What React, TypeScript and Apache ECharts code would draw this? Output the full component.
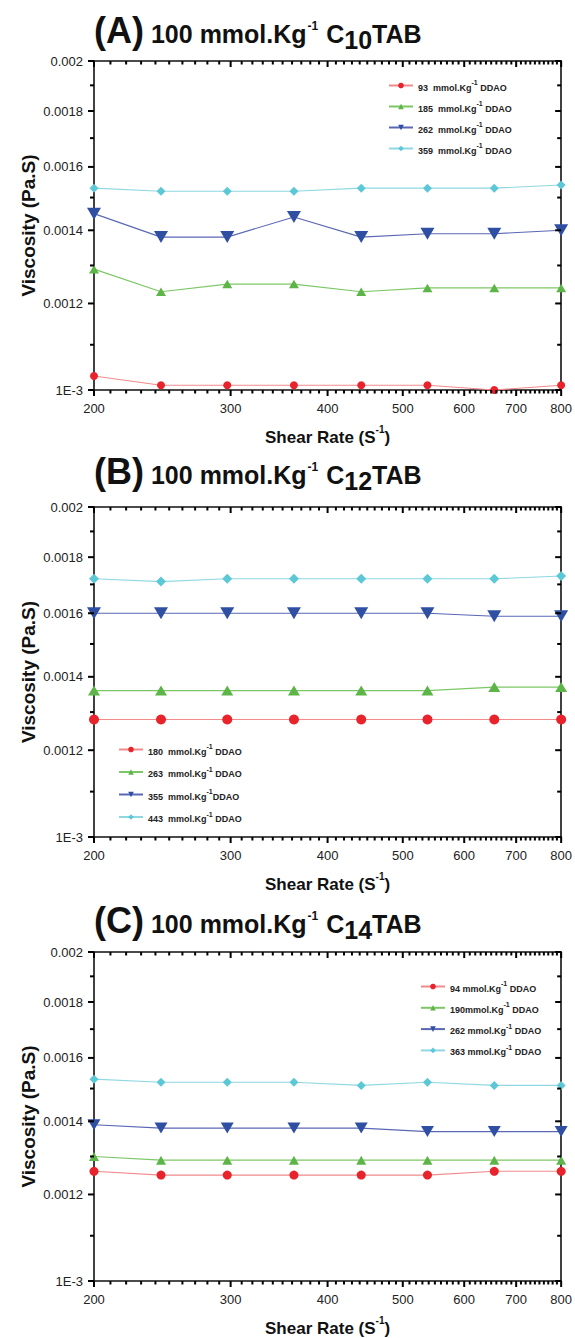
import React, { useEffect, useRef } from "react";
import * as echarts from "echarts";

// ---------- data ----------
const shearRates = [200, 244, 297, 362, 442, 538, 656, 800];

const panelLetters = ["(A)", "(B)", "(C)"];
const surfactantChain = ["10", "12", "14"];

const namesA = ["93  mmol.Kg-1 DDAO", "185  mmol.Kg-1 DDAO", "262  mmol.Kg-1 DDAO", "359  mmol.Kg-1 DDAO"];
const a93 = [0.00103, 0.00101, 0.00101, 0.00101, 0.00101, 0.00101, 0.001, 0.00101];
const a185 = [0.00129, 0.00123, 0.00125, 0.00125, 0.00123, 0.00124, 0.00124, 0.00124];
const a262 = [0.00145, 0.00138, 0.00138, 0.00144, 0.00138, 0.00139, 0.00139, 0.0014];
const a359 = [0.00153, 0.00152, 0.00152, 0.00152, 0.00153, 0.00153, 0.00153, 0.00154];

const namesB = ["180  mmol.Kg-1 DDAO", "263  mmol.Kg-1 DDAO", "355  mmol.Kg-1DDAO", "443  mmol.Kg-1 DDAO"];
const b180 = [0.00128, 0.00128, 0.00128, 0.00128, 0.00128, 0.00128, 0.00128, 0.00128];
const b263 = [0.00136, 0.00136, 0.00136, 0.00136, 0.00136, 0.00136, 0.00137, 0.00137];
const b355 = [0.0016, 0.0016, 0.0016, 0.0016, 0.0016, 0.0016, 0.00159, 0.00159];
const b443 = [0.00172, 0.00171, 0.00172, 0.00172, 0.00172, 0.00172, 0.00172, 0.00173];

const namesC = ["94 mmol.Kg-1 DDAO", "190mmol.Kg-1 DDAO", "262 mmol.Kg-1 DDAO", "363 mmol.Kg-1 DDAO"];
const c94 = [0.00126, 0.00125, 0.00125, 0.00125, 0.00125, 0.00125, 0.00126, 0.00126];
const c190 = [0.0013, 0.00129, 0.00129, 0.00129, 0.00129, 0.00129, 0.00129, 0.00129];
const c262 = [0.00139, 0.00138, 0.00138, 0.00138, 0.00138, 0.00137, 0.00137, 0.00137];
const c363 = [0.00153, 0.00152, 0.00152, 0.00152, 0.00151, 0.00152, 0.00151, 0.00151];

const xMajorTicks = [200, 300, 400, 500, 600, 700, 800];
const xTickLabels = ["200", "300", "400", "500", "600", "700", "800"];
const yMajorTicks = [0.001, 0.0012, 0.0014, 0.0016, 0.0018, 0.002];
const yTickLabels = ["1E-3", "0.0012", "0.0014", "0.0016", "0.0018", "0.002"];
const yMinorTicks = [0.0011, 0.0013, 0.0015, 0.0017, 0.0019];
const xMinorTicks: number[] = [];
for (let v = 210; v < 800; v += 10) if (v % 100 !== 0) xMinorTicks.push(v);

const X_MIN = 200;
const X_MAX = 800;
const Y_MIN = 0.001;
const Y_MAX = 0.002;

// ---------- styling ----------
const markColors = ["#e8232b", "#5db548", "#2f4fa3", "#5cc8d6"];
const lineColors = ["#f28a8a", "#7cc765", "#5a67b5", "#8fd8e2"];
const downTri = "path://M0,0L10,0L5,8.66Z";
const symbols = ["circle", "triangle", downTri, "diamond"];
const sizesPerPanel: any[] = [
  [8, [10, 8.5], [14, 12], [9, 9]],
  [10, [12, 10], [14, 12], [10, 10]],
  [9, [10, 9], [13, 11], [9, 9]],
];

const FONT = "'Liberation Sans', Arial, Helvetica, sans-serif";

const grids = [
  { top: 61, height: 329 },
  { top: 507, height: 330 },
  { top: 952, height: 330 },
];
const titleTops = [16, 457, 906];
const legendPos = [
  { left: 388, top: 79, gap: 8 },
  { left: 118, top: 743, gap: 9.5 },
  { left: 420, top: 980, gap: 8.3 },
];

const AX_PER_GRID = 3;
const lg = Math.log10;
const axisColor = "#111";

function nearestLabel(v: number, ticks: number[], labels: string[]) {
  let best = 0;
  let bd = Infinity;
  ticks.forEach((t, i) => {
    const d = Math.abs(lg(t) - v);
    if (d < bd) {
      bd = d;
      best = i;
    }
  });
  return labels[best];
}

function xAxesFor(g: number) {
  const common = {
    gridIndex: g,
    type: "value",
    min: lg(X_MIN),
    max: lg(X_MAX),
    splitLine: { show: false },
    axisLine: { show: false, onZero: false },
    axisLabel: { show: false },
    axisTick: { show: false },
    silent: true,
  };
  return [
    {
      gridIndex: g,
      type: "log",
      min: X_MIN,
      max: X_MAX,
      position: "bottom",
      axisLine: { show: true, onZero: false, lineStyle: { color: axisColor, width: 1.6 } },
      axisTick: { show: false },
      axisLabel: { show: false },
      splitLine: { show: false },
      minorTick: { show: false },
      minorSplitLine: { show: false },
      name: "{n|Shear Rate (S}{s|-1}{n|)}",
      nameLocation: "middle",
      nameGap: 36,
      nameTextStyle: {
        rich: {
          n: { fontSize: 17, fontWeight: "bold", fontFamily: FONT, color: "#111", lineHeight: 20, verticalAlign: "bottom" },
          s: { fontSize: 10, fontWeight: "bold", fontFamily: FONT, color: "#111", lineHeight: 10, padding: [0, 0, 12, 0], verticalAlign: "bottom" },
        },
      },
    },
    {
      ...common,
      position: "bottom",
      axisLabel: {
        show: true,
        customValues: xMajorTicks.map(lg),
        formatter: (v: number) => nearestLabel(v, xMajorTicks, xTickLabels),
        margin: 12,
        fontSize: 13,
        fontFamily: FONT,
        color: "#222",
      },
    },
    {
      ...common,
      position: "top",
      axisLine: { show: true, onZero: false, lineStyle: { color: axisColor, width: 1.6 } },
    },
  ];
}

function yAxesFor(g: number) {
  const common = {
    gridIndex: g,
    type: "value",
    min: lg(Y_MIN),
    max: lg(Y_MAX),
    splitLine: { show: false },
    axisLine: { show: false, onZero: false },
    axisLabel: { show: false },
    axisTick: { show: false },
    silent: true,
  };
  return [
    {
      gridIndex: g,
      type: "log",
      min: Y_MIN,
      max: Y_MAX,
      position: "left",
      axisLine: { show: true, onZero: false, lineStyle: { color: axisColor, width: 1.6 } },
      axisTick: { show: false },
      axisLabel: { show: false },
      splitLine: { show: false },
      minorTick: { show: false },
      minorSplitLine: { show: false },
      name: "Viscosity (Pa.S)",
      nameLocation: "middle",
      nameGap: 56,
      nameTextStyle: { fontSize: 19, fontWeight: "bold", fontFamily: FONT, color: "#111" },
    },
    {
      ...common,
      position: "left",
      axisLabel: {
        show: true,
        customValues: yMajorTicks.map(lg),
        formatter: (v: number) => nearestLabel(v, yMajorTicks, yTickLabels),
        margin: 11,
        fontSize: 13,
        fontFamily: FONT,
        color: "#222",
      },
    },
    {
      ...common,
      position: "right",
      axisLine: { show: true, onZero: false, lineStyle: { color: axisColor, width: 1.6 } },
    },
  ];
}

function seriesFor(g: number, names: string[], values: number[][]) {
  return values.map((vals, i) => ({
    type: "line",
    name: names[i],
    xAxisIndex: g * AX_PER_GRID,
    yAxisIndex: g * AX_PER_GRID,
    data: shearRates.map((x, j) => [x, vals[j]]),
    symbol: symbols[i],
    symbolSize: sizesPerPanel[g][i],
    showSymbol: true,
    lineStyle: { color: lineColors[i], width: 1.1 },
    itemStyle: { color: markColors[i] },
    emphasis: { disabled: true },
    silent: true,
    clip: false,
    z: 3 + i,
  }));
}

const legendRich = {
  n: { fontSize: 9, fontWeight: "bold", fontFamily: FONT, color: "#222", lineHeight: 13, verticalAlign: "bottom" },
  s: { fontSize: 7, fontWeight: "bold", fontFamily: FONT, color: "#222", lineHeight: 7, padding: [0, 0, 6, 0], verticalAlign: "bottom" },
};

function legendFor(g: number, names: string[]) {
  const p = legendPos[g];
  return {
    orient: "vertical",
    left: p.left,
    top: p.top,
    padding: 0,
    itemGap: p.gap,
    itemWidth: 24,
    itemHeight: 7,
    data: names,
    selectedMode: false,
    formatter: (name: string) => {
      const parts = name.split("-1");
      return `{n|${parts[0]}}{s|-1}{n|${parts[1]}}`;
    },
    textStyle: { rich: legendRich },
  };
}

const titleRich = {
  p: { fontSize: 36, fontWeight: "bold", fontFamily: FONT, color: "#111", lineHeight: 36, padding: [0, 7, 4, 0], verticalAlign: "bottom" },
  t: { fontSize: 25, fontWeight: "bold", fontFamily: FONT, color: "#111", lineHeight: 25, padding: [0, 0, 6, 0], verticalAlign: "bottom" },
  sup: { fontSize: 12, fontFamily: FONT, color: "#111", lineHeight: 12, padding: [0, 8, 20, 1], verticalAlign: "bottom" },
  sub: { fontSize: 25, fontWeight: "bold", fontFamily: FONT, color: "#111", lineHeight: 25, padding: [0, 0, 0, 0], verticalAlign: "bottom" },
};

function titleFor(g: number) {
  return {
    left: 94,
    top: titleTops[g],
    padding: 0,
    text: `{p|${panelLetters[g]}}{t|100 mmol.Kg}{sup|-1}{t|C}{sub|${surfactantChain[g]}}{t|TAB}`,
    textStyle: { rich: titleRich },
  };
}

// pixel position of a (shear rate, viscosity) pair via the series' own cartesian
function toPx(chart: any, g: number, x: number, y: number): number[] {
  const p = chart.convertToPixel({ seriesIndex: g * 4 }, [x, y]);
  return Array.isArray(p) ? p : [NaN, NaN];
}

// tick marks placed with the axes' own scales
function buildTickGraphics(chart: any) {
  const out: any[] = [];
  const rect = (x: number, y: number, w: number, h: number) => ({
    type: "rect",
    silent: true,
    z: 100,
    shape: { x, y, width: w, height: h },
    style: { fill: "#000" },
  });
  const T = 2;
  for (let g = 0; g < 3; g++) {
    const yMid = 0.0015;
    const xMid = 300;
    const yb = toPx(chart, g, xMid, Y_MIN)[1];
    const yt = toPx(chart, g, xMid, Y_MAX)[1];
    const xl = toPx(chart, g, X_MIN, yMid)[0];
    const xr = toPx(chart, g, X_MAX, yMid)[0];
    xMajorTicks.forEach((v) => {
      const px = toPx(chart, g, v, yMid)[0];
      out.push(rect(px - T / 2, yb, T, 6), rect(px - T / 2, yt, T, 6));
    });
    xMinorTicks.forEach((v) => {
      const px = toPx(chart, g, v, yMid)[0];
      out.push(rect(px - T / 2, yb, T, 3.5), rect(px - T / 2, yt, T, 3.5));
    });
    yMajorTicks.forEach((v) => {
      const py = toPx(chart, g, xMid, v)[1];
      out.push(rect(xl - 6, py - T / 2, 6, T), rect(xr - 6, py - T / 2, 6, T));
    });
    yMinorTicks.forEach((v) => {
      const py = toPx(chart, g, xMid, v)[1];
      out.push(rect(xl - 4, py - T / 2, 4, T), rect(xr - 4, py - T / 2, 4, T));
    });
  }
  return out;
}

export default function App() {
  const ref = useRef<HTMLDivElement>(null);
  useEffect(() => {
    document.body.style.margin = "0";
    if (!ref.current) return;
    const chart = echarts.init(ref.current, undefined, { renderer: "svg" });
    const allNames = [namesA, namesB, namesC];
    const allValues = [
      [a93, a185, a262, a359],
      [b180, b263, b355, b443],
      [c94, c190, c262, c363],
    ];
    const option: any = {
      animation: false,
      backgroundColor: "#ffffff",
      title: [0, 1, 2].map(titleFor),
      legend: [0, 1, 2].map((g) => legendFor(g, allNames[g])),
      grid: grids.map((gr) => ({ left: 94, right: 12, top: gr.top, height: gr.height, show: false })),
      xAxis: [0, 1, 2].flatMap(xAxesFor),
      yAxis: [0, 1, 2].flatMap(yAxesFor),
      series: [0, 1, 2].flatMap((g) => seriesFor(g, allNames[g], allValues[g])),
    };
    chart.setOption(option);
    chart.setOption({ graphic: buildTickGraphics(chart) });
    return () => chart.dispose();
  }, []);
  return <div ref={ref} style={{ width: 575, height: 1338 }} />;
}
